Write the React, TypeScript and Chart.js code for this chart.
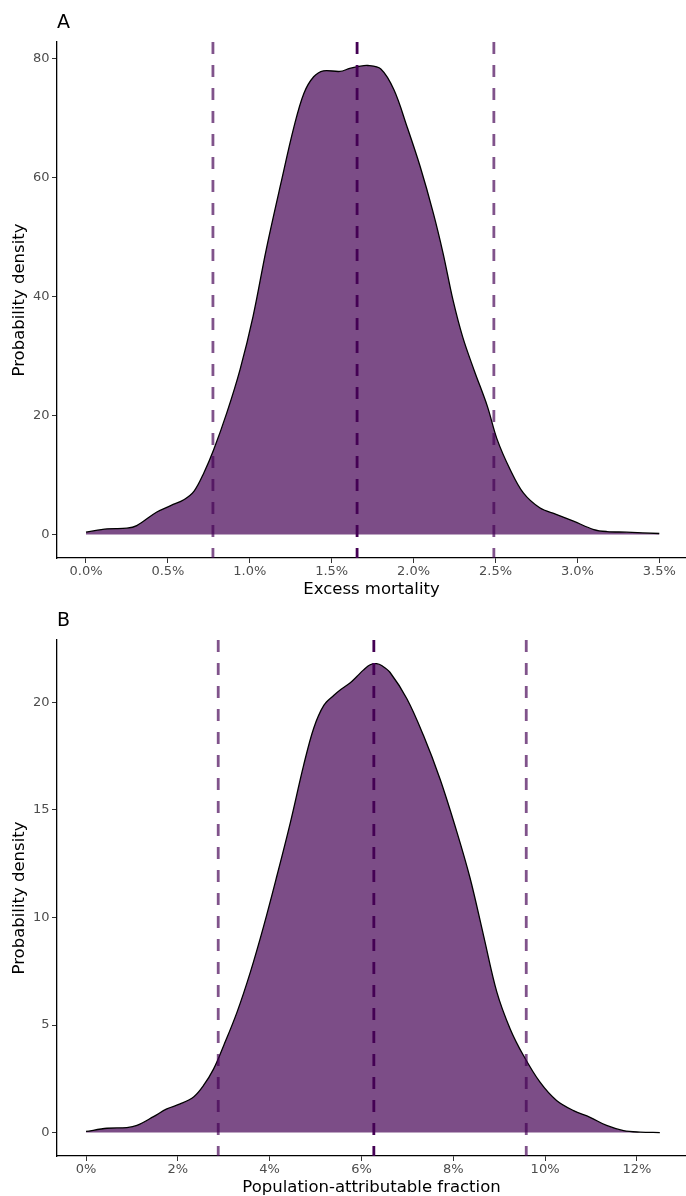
import React, { useEffect, useRef } from 'react';
import { Chart, registerables } from 'chart.js';

Chart.register(...registerables);

// Panel A: excess mortality (%)
const excessX = [0, 0.13, 0.25, 0.31, 0.43, 0.52, 0.6, 0.66, 0.72, 0.78, 0.86, 0.94, 1.02, 1.1, 1.19, 1.27, 1.33, 1.39, 1.45, 1.55, 1.61, 1.66, 1.72, 1.8, 1.88, 1.96, 2.04, 2.12, 2.18, 2.24, 2.3, 2.37, 2.45, 2.51, 2.59, 2.67, 2.77, 2.87, 2.98, 3.1, 3.18, 3.3, 3.5];
const excessDensity = [0.4, 0.95, 1.06, 1.5, 3.75, 4.9, 5.9, 7.3, 10.4, 14.3, 20.5, 27.7, 36.7, 47.9, 59.1, 68.6, 74.2, 77.0, 78.0, 77.9, 78.4, 78.7, 78.9, 78.3, 74.8, 68.6, 61.9, 54.1, 47.3, 39.5, 33.2, 27.6, 21.6, 16.0, 10.9, 7.0, 4.5, 3.4, 2.2, 0.84, 0.5, 0.4, 0.17];
const excessLines = [0.775, 1.655, 2.49];
const excessTicksX = [0, 0.5, 1, 1.5, 2, 2.5, 3, 3.5];
const excessTicksY = [0, 20, 40, 60, 80];

// Panel B: population-attributable fraction (%)
const pafX = [0, 0.46, 0.89, 1.11, 1.47, 1.76, 2.05, 2.35, 2.56, 2.78, 3.0, 3.29, 3.58, 3.87, 4.16, 4.45, 4.74, 4.96, 5.18, 5.4, 5.55, 5.75, 5.9, 6.04, 6.19, 6.33, 6.45, 6.62, 6.99, 7.35, 7.71, 8.08, 8.37, 8.66, 8.95, 9.24, 9.53, 9.89, 10.25, 10.62, 10.98, 11.34, 11.71, 12.07, 12.5];
const pafDensity = [0.05, 0.2, 0.23, 0.33, 0.74, 1.1, 1.33, 1.67, 2.19, 2.96, 4.05, 5.6, 7.46, 9.6, 11.95, 14.4, 17.07, 18.8, 19.86, 20.33, 20.6, 20.9, 21.2, 21.5, 21.75, 21.8, 21.7, 21.4, 20.17, 18.47, 16.45, 13.97, 11.8, 9.16, 6.53, 4.82, 3.58, 2.34, 1.49, 1.02, 0.71, 0.33, 0.09, 0.02, 0.0];
const pafLines = [2.88, 6.27, 9.59];
const pafTicksX = [0, 2, 4, 6, 8, 10, 12];
const pafTicksY = [0, 5, 10, 15, 20];

const FONT = "'DejaVu Sans', sans-serif";
const W = 686;
const H = 598;

type PanelProps = {
  tag: string;
  top: number;
  xs: number[];
  ys: number[];
  lines: number[];
  ticksX: number[];
  ticksY: number[];
  xMin: number;
  xMax: number;
  yMin: number;
  yMax: number;
  xTitle: string;
  fmt: (v: number) => string;
};

function Panel(p: PanelProps) {
  const ref = useRef<HTMLCanvasElement | null>(null);
  useEffect(() => {
    if (!ref.current) return;
    const density = {
      data: p.xs.map((x, i) => ({ x, y: p.ys[i] })),
      borderColor: '#000000',
      borderWidth: 1.3,
      backgroundColor: 'rgba(68,1,84,0.7)',
      fill: 'origin',
      pointRadius: 0,
      tension: 0.35,
      order: 5,
    };
    const vlines = p.lines.map((v, i) => ({
      data: [
        { x: v, y: p.yMax },
        { x: v, y: p.yMin },
      ],
      borderColor: i === 1 ? 'rgba(68,1,84,1)' : 'rgba(68,1,84,0.68)',
      borderWidth: 2.8,
      borderDash: [12, 11],
      pointRadius: 0,
      fill: false,
      order: 1,
    }));
    const chart = new Chart(ref.current, {
      type: 'line',
      data: { datasets: [density, ...vlines] as any },
      options: {
        animation: false,
        responsive: false,
        devicePixelRatio: 1,
        layout: { padding: { top: 42, left: 0, right: 0, bottom: 0 } },
        plugins: { legend: { display: false }, tooltip: { enabled: false } },
        scales: {
          x: {
            type: 'linear',
            min: p.xMin,
            max: p.xMax,
            afterBuildTicks: (s: any) => {
              s.ticks = p.ticksX.map((value) => ({ value }));
            },
            afterFit: (s: any) => {
              s.height = 40;
            },
            grid: { drawOnChartArea: false, drawTicks: true, tickLength: 5, color: '#333333', lineWidth: 1 },
            border: { display: true, color: '#000000', width: 1.3 },
            ticks: {
              autoSkip: false,
              maxRotation: 0,
              padding: 1,
              color: '#4d4d4d',
              font: { family: FONT, size: 13 },
              callback: (v: any) => p.fmt(Number(v)),
            },
            title: {
              display: true,
              text: p.xTitle,
              color: '#000000',
              font: { family: FONT, size: 16.5, lineHeight: 1 },
              padding: { top: 0, bottom: 0 },
            },
          },
          y: {
            type: 'linear',
            min: p.yMin,
            max: p.yMax,
            afterBuildTicks: (s: any) => {
              s.ticks = p.ticksY.map((value) => ({ value }));
            },
            afterFit: (s: any) => {
              s.width = 57;
            },
            grid: { drawOnChartArea: false, drawTicks: true, tickLength: 5, color: '#333333', lineWidth: 1 },
            border: { display: true, color: '#000000', width: 1.3 },
            ticks: {
              padding: 2.5,
              color: '#4d4d4d',
              font: { family: FONT, size: 13 },
              callback: (v: any) => String(v),
            },
            title: {
              display: true,
              text: 'Probability density',
              color: '#000000',
              font: { family: FONT, size: 16.5, lineHeight: 1 },
              padding: { top: 11, bottom: 0 },
            },
          },
        },
      } as any,
    });
    return () => chart.destroy();
  }, []);
  return (
    <div style={{ position: 'absolute', left: 0, top: p.top, width: W, height: H }}>
      <canvas ref={ref} width={W} height={H} style={{ position: 'absolute', left: 0, top: 0, width: W, height: H }} />
      <div
        style={{
          position: 'absolute',
          left: 57,
          top: 10,
          fontFamily: FONT,
          fontSize: 19,
          lineHeight: '22px',
          color: '#000',
        }}
      >
        {p.tag}
      </div>
    </div>
  );
}

export default function App() {
  return (
    <div style={{ position: 'absolute', left: 0, top: 0, width: W, height: 1196, background: '#fff', overflow: 'hidden' }}>
      <Panel
        tag="A"
        top={0}
        xs={excessX}
        ys={excessDensity}
        lines={excessLines}
        ticksX={excessTicksX}
        ticksY={excessTicksY}
        xMin={-0.177}
        xMax={3.663}
        yMin={-3.95}
        yMax={82.85}
        xTitle="Excess mortality"
        fmt={(v) => v.toFixed(1) + '%'}
      />
      <Panel
        tag="B"
        top={598}
        xs={pafX}
        ys={pafDensity}
        lines={pafLines}
        ticksX={pafTicksX}
        ticksY={pafTicksY}
        xMin={-0.632}
        xMax={13.07}
        yMin={-1.09}
        yMax={22.9}
        xTitle="Population-attributable fraction"
        fmt={(v) => Math.round(v) + '%'}
      />
    </div>
  );
}
